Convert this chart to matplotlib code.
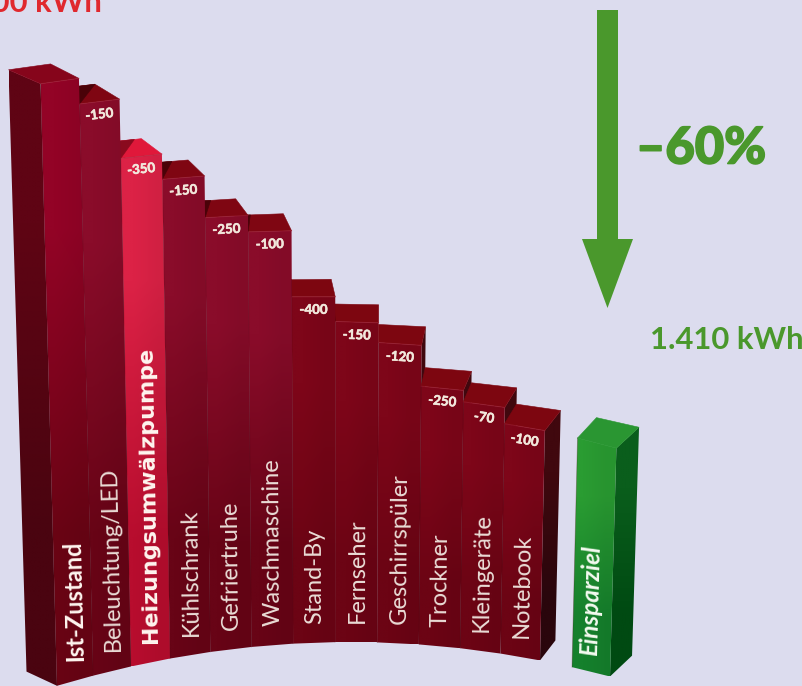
"""Household power saving steps as a perspective column chart."""
import matplotlib
matplotlib.use("Agg")
import matplotlib.patheffects as pe
import matplotlib.pyplot as plt
import numpy as np
from matplotlib.colors import to_rgb
from matplotlib.patches import Polygon

plt.rcParams["font.family"] = ["Lato", "DejaVu Sans"]

# data
start_kwh = 3500
target_kwh = 1410
categories = ["Ist-Zustand", "Beleuchtung/LED", "Heizungsumwälzpumpe", "Kühlschrank",
              "Gefriertruhe", "Waschmaschine", "Stand-By", "Fernseher", "Geschirrspüler",
              "Trockner", "Kleingeräte", "Notebook"]
savings = [0, 150, 350, 150, 250, 100, 400, 150, 120, 250, 70, 100]
levels = start_kwh - np.cumsum(savings)
target_label = "Einsparziel"
percent_label = "–60%"

BG = "#dcdcee"
GREEN = "#4a982c"
RED = "#e0282e"
BOLD_BARS = {"Ist-Zustand", "Heizungsumwälzpumpe"}


# perspective of the picture: floor curve, height scale, vanishing lines
def edge_x(e):
    return 57 + 40.25 * e - 0.0456 * e * (e - 12) * (e - 9.3)


def floor_y(x):
    return 642 + 5.1e-4 * (x - 350) ** 2


def kwh_scale(x):
    return 0.163 + 4.2e-8 * (x - 520) ** 2 - 2e-5 * max(x - 540, 0)


def project(bx, kwh):
    h = kwh * kwh_scale(bx)
    return np.array([bx + h * (bx - 330) * 1e-4, floor_y(bx) - h])


def with_depth(p):
    return p + np.array([0.095 * (p[0] - 378), -(13.5 + 0.012 * p[0])])


def shade_face(ax, verts, top, bottom, side=0.95):
    # 2x2 gradient clipped to the face, right side a bit darker
    t, b = np.array(to_rgb(top)), np.array(to_rgb(bottom))
    img = np.array([[t, t * side], [b, b * side]])
    verts = np.array(verts)
    x0, y0 = verts.min(axis=0)
    x1, y1 = verts.max(axis=0)
    im = ax.imshow(img, extent=(x0, x1, y1, y0), origin="upper", aspect="auto",
                   interpolation="bilinear", zorder=ax._face_z)
    im.set_clip_path(Polygon(verts, closed=True, transform=ax.transData))
    ax._face_z += 0.01


def flat_face(ax, verts, color):
    ax.add_patch(Polygon(verts, closed=True, fc=color, ec=color, lw=0.4, zorder=ax._face_z))
    ax._face_z += 0.01


def draw_column(ax, bx0, bx1, kwh, front, top_color, side_colors, left=False, right=False,
                shadow=None, shadow_color="#4a0208", rim="#a8283c"):
    fl, fr = project(bx0, kwh), project(bx1, kwh)
    gl, gr = project(bx0, 0), project(bx1, 0)
    bl, br = with_depth(fl), with_depth(fr)
    if left:
        shade_face(ax, [fl, bl, with_depth(gl), gl], *side_colors, side=1.0)
    if right:
        shade_face(ax, [fr, br, with_depth(gr), gr], *side_colors, side=1.0)
    flat_face(ax, [fl, fr, br, bl], top_color)
    if shadow is not None:
        flat_face(ax, [fl, bl, bl + (br - bl) * shadow], shadow_color)
    shade_face(ax, [gl, gr, fr, fl], *front)
    ax.plot(*zip(fl, fr), color=rim, lw=0.7, alpha=0.5, zorder=ax._face_z)
    ax.plot(*zip(fl, gl), color="#4a0410", lw=0.6, alpha=0.3, zorder=ax._face_z)
    ax._face_z += 0.01
    return fl, fr


fig = plt.figure(figsize=(8.03, 6.86), dpi=100, facecolor=BG)
ax = fig.add_axes([0, 0, 1, 1])
ax.set_facecolor(BG)
ax._face_z = 2

n = len(categories)
# painted from the middle outward, outer columns cover inner side faces
order = list(range(7, -1, -1)) + list(range(8, n))
for i in order:
    bx0, bx1 = edge_x(i), edge_x(i + 1)
    name = categories[i]
    if name == "Heizungsumwälzpumpe":
        front, top, shadow_c = ("#dc2246", "#b80d2e"), "#e0183a", "#8a0a1e"
    elif i == 0:
        front, top, shadow_c = ("#930326", "#6a0414"), "#86051b", "#4a0208"
    elif i < 6:
        front, top, shadow_c = ("#8a0c2a", "#680416"), "#7f0612", "#4a0208"
    else:
        front, top, shadow_c = ("#7e0619", "#6c0414"), "#7d0610", "#4a0208"

    shadow = None
    if 0 < i < 8:
        x_top = project(bx0, levels[i])[0]
        shadow = float(np.clip((380 - x_top) / 290, 0, 1)) ** 1.5

    fl, fr = draw_column(
        ax, bx0, bx1, levels[i], front, top,
        ("#5f0414", "#4a0410") if i == 0 else ("#40080e", "#2a060c"),
        left=i < 8, right=i >= 8, shadow=shadow, shadow_color=shadow_c,
    )
    mid = (fl + fr) / 2
    slope = np.degrees(np.arctan2(-(fr[1] - fl[1]), fr[0] - fl[0]))
    if savings[i]:
        ax.text(mid[0], mid[1] + 13, f"-{savings[i]}", color="#f2e8dc", fontsize=9.6,
                fontweight="bold", ha="center", va="center", rotation=slope,
                rotation_mode="anchor", zorder=20,
                path_effects=[pe.withStroke(linewidth=0.4, foreground="#f2e8dc")])
    cx = (bx0 + bx1) / 2 + 1
    is_bold = name in BOLD_BARS
    is_pump = name == "Heizungsumwälzpumpe"
    ax.text(cx, floor_y(cx) - 19, name, color="#fff6f0" if is_bold else "#eadcd6",
            fontsize=16 if is_pump else 17, fontweight="bold" if is_bold else "normal",
            family="DejaVu Sans" if is_pump else None,
            rotation=90 + np.degrees(np.arctan((330 - cx) * 1e-4)), rotation_mode="anchor",
            ha="left", va="center", zorder=20)

# target column, set apart by a gap
gx0 = edge_x(n) + 32
gx1 = gx0 + 38
fl, fr = draw_column(ax, gx0, gx1, target_kwh, ("#2a9c32", "#15802c"), "#2a9632",
                     ("#0a5e1c", "#004a12"), right=True, rim="#2a9c32")
cx = (gx0 + gx1) / 2 - 1
ax.text(cx, floor_y(cx) - 16, target_label, color="#f4faf0", fontsize=17.5, fontweight="bold",
        style="italic", rotation=90 - np.degrees(np.arctan((cx - 330) * 1e-4)),
        rotation_mode="anchor", ha="left", va="center", zorder=20)

# drop arrow and totals
ax.arrow(607.5, 10, 0, 298, width=21, head_width=51, head_length=69,
         length_includes_head=True, fc=GREEN, ec=GREEN, lw=0, zorder=5)
ax.text(636, 149, percent_label, color=GREEN, fontsize=36.5, fontweight="black",
        ha="left", va="center", zorder=5,
        path_effects=[pe.withStroke(linewidth=1.2, foreground=GREEN)])
ax.text(650, 340, f"{target_kwh:,} kWh".replace(",", "."), color=GREEN, fontsize=22.3,
        fontweight="bold", ha="left", va="center", zorder=5)
ax.text(102, 12, f"{start_kwh:,} kWh".replace(",", "."), color=RED, fontsize=22.3,
        fontweight="bold", ha="right", va="baseline", zorder=5)

ax.set_xlim(0, 803)
ax.set_ylim(686, 0)
ax.axis("off")
fig.savefig("out.png", dpi=100, facecolor=BG)
